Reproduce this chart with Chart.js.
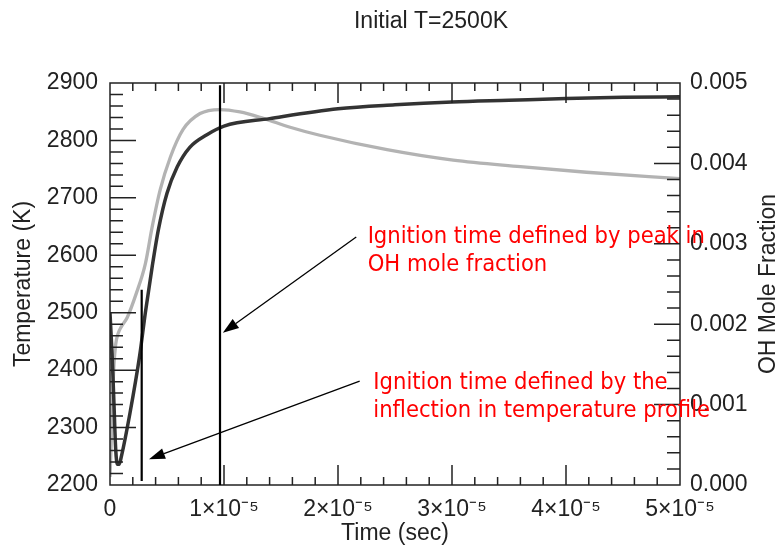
<!DOCTYPE html>
<html>
<head>
<meta charset="utf-8">
<title>Initial T=2500K</title>
<script src="https://cdn.jsdelivr.net/npm/chart.js@4.4.1/dist/chart.umd.min.js"></script>
<style>
    html, body { margin: 0; padding: 0; background: #fff; }
    #wrap { position: relative; width: 780px; height: 548px; }
</style>
</head>
<body>
<div id="wrap"><canvas id="ignition-chart" width="780" height="548"></canvas></div>
<script>
// temperature profile (dark curve), time in sec
var tempTime = [0, 0.1e-6, 0.2e-6, 0.35e-6, 0.5e-6, 0.65e-6, 0.8e-6, 1.0e-6, 1.75e-6, 2.6e-6,
    3.1e-6, 3.7e-6, 4.25e-6, 5.0e-6, 5.9e-6, 7.0e-6, 8.5e-6, 10e-6, 14e-6, 20e-6,
    25e-6, 30e-6, 35e-6, 40e-6, 45e-6, 50e-6];
var tempK = [2500, 2460, 2420, 2340, 2262, 2236, 2236, 2250, 2325, 2425,
    2500, 2580, 2645, 2708, 2754, 2788, 2810, 2825, 2838, 2855,
    2862, 2867, 2870, 2873, 2875, 2876];

// OH mole fraction (light curve)
var ohTime = [0, 0.1e-6, 0.2e-6, 0.35e-6, 0.5e-6, 0.7e-6, 1.0e-6, 1.5e-6, 2.3e-6, 3.1e-6,
    3.7e-6, 4.4e-6, 5.3e-6, 6.4e-6, 7.9e-6, 9.65e-6, 11.4e-6, 13.45e-6, 15.8e-6, 18.4e-6,
    24.3e-6, 30.1e-6, 36e-6, 41.8e-6, 50e-6];
var ohFrac = [0.0001, 0.0005, 0.0010, 0.0015, 0.00175, 0.00188, 0.00197, 0.00208, 0.00238, 0.00275,
    0.00321, 0.00367, 0.00408, 0.00442, 0.00462, 0.00467, 0.00464, 0.00456, 0.00445, 0.00435,
    0.00417, 0.00404, 0.00396, 0.00389, 0.00381];

// axis ticks
var timeTicks = [0, 1e-5, 2e-5, 3e-5, 4e-5, 5e-5];
var tempTicks = [2200, 2300, 2400, 2500, 2600, 2700, 2800, 2900];
var ohTicks = [0, 0.001, 0.002, 0.003, 0.004, 0.005];
var minorPerMajor = 5;

// ignition time markers: [time, T from, T to]
var markTime = [2.78e-6, 9.65e-6];
var markTempLow = [2207, 2200];
var markTempHigh = [2540, 2896];

// annotation arrows, tail -> head in (time, T)
var arrowTailTime = [21.6e-6, 21.9e-6];
var arrowTailTemp = [2632, 2381];
var arrowHeadTime = [9.9e-6, 3.42e-6];
var arrowHeadTemp = [2465, 2245];

// notes, anchored at first line baseline (time, T)
var noteLines = [
    ['Ignition time defined by peak in', 'OH mole fraction'],
    ['Ignition time defined by the', 'inflection in temperature profile']
];
var noteTime = [22.6e-6, 23.1e-6];
var noteTemp = [2621, 2367];

var chartTitle = 'Initial T=2500K';
var rightTitle = 'OH Mole Fraction';

var textFont = '"Liberation Sans", Arial, Helvetica, sans-serif';
var noteFont = '23.5px "DejaVu Sans Condensed", "DejaVu Sans", sans-serif';

Chart.defaults.font.family = textFont;
Chart.defaults.font.size = 23;
Chart.defaults.color = '#222';

function toPoints(xs, ys) {
    var pts = [];
    for (var i = 0; i < xs.length; i++) {
        pts.push({ x: xs[i], y: ys[i] });
    }
    return pts;
}

function fixTicks(list) {
    return function (scale) {
        scale.ticks = list.map(function (v) { return { value: v }; });
    };
}

function drawArrow(ctx, x0, y0, x1, y1) {
    var ang = Math.atan2(y1 - y0, x1 - x0);
    var c = Math.cos(ang), s = Math.sin(ang);
    var head = 16, half = 5.5;
    var bx = x1 - head * c, by = y1 - head * s;
    ctx.beginPath();
    ctx.moveTo(x0, y0);
    ctx.lineTo(bx, by);
    ctx.stroke();
    ctx.beginPath();
    ctx.moveTo(x1, y1);
    ctx.lineTo(bx + half * s, by - half * c);
    ctx.lineTo(bx - half * s, by + half * c);
    ctx.closePath();
    ctx.fill();
}

var frameAndNotes = {
    id: 'frameAndNotes',
    afterDatasetsDraw: function (chart) {
        var ctx = chart.ctx;
        var a = chart.chartArea;
        var sx = chart.scales.x, sy = chart.scales.y, sy1 = chart.scales.y1;
        var i, j;
        ctx.save();
        ctx.strokeStyle = '#222';
        ctx.lineWidth = 1.5;

        // inward tick marks on all four sides
        ctx.beginPath();
        var xStep = (timeTicks[1] - timeTicks[0]) / minorPerMajor;
        var xCount = (timeTicks.length - 1) * minorPerMajor;
        for (i = 1; i < xCount; i++) {
            var px = sx.getPixelForValue(timeTicks[0] + i * xStep);
            var xl = (i % minorPerMajor == 0) ? 20 : 8;
            ctx.moveTo(px, a.bottom);
            ctx.lineTo(px, a.bottom - xl);
            ctx.moveTo(px, a.top);
            ctx.lineTo(px, a.top + xl);
        }
        var yStep = (tempTicks[1] - tempTicks[0]) / minorPerMajor;
        var yCount = (tempTicks.length - 1) * minorPerMajor;
        for (i = 1; i < yCount; i++) {
            var py = sy.getPixelForValue(tempTicks[0] + i * yStep);
            var yl = (i % minorPerMajor == 0) ? 26 : 13;
            ctx.moveTo(a.left, py);
            ctx.lineTo(a.left + yl, py);
        }
        var ohStep = (ohTicks[1] - ohTicks[0]) / minorPerMajor;
        var ohCount = (ohTicks.length - 1) * minorPerMajor;
        for (i = 1; i < ohCount; i++) {
            var py1 = sy1.getPixelForValue(ohTicks[0] + i * ohStep);
            var rl = (i % minorPerMajor == 0) ? 26 : 13;
            ctx.moveTo(a.right, py1);
            ctx.lineTo(a.right - rl, py1);
        }
        ctx.stroke();
        ctx.strokeRect(a.left, a.top, a.right - a.left, a.bottom - a.top);

        // ignition time markers
        ctx.strokeStyle = '#000';
        ctx.lineWidth = 2.2;
        ctx.beginPath();
        for (i = 0; i < markTime.length; i++) {
            var mx = sx.getPixelForValue(markTime[i]);
            ctx.moveTo(mx, sy.getPixelForValue(markTempLow[i]));
            ctx.lineTo(mx, sy.getPixelForValue(markTempHigh[i]));
        }
        ctx.stroke();

        // arrows
        ctx.lineWidth = 1.3;
        ctx.fillStyle = '#000';
        for (i = 0; i < arrowTailTime.length; i++) {
            drawArrow(ctx,
                sx.getPixelForValue(arrowTailTime[i]), sy.getPixelForValue(arrowTailTemp[i]),
                sx.getPixelForValue(arrowHeadTime[i]), sy.getPixelForValue(arrowHeadTemp[i]));
        }

        // red notes
        ctx.font = noteFont;
        ctx.fillStyle = '#ff0000';
        ctx.textAlign = 'left';
        ctx.textBaseline = 'alphabetic';
        for (i = 0; i < noteLines.length; i++) {
            var nx = sx.getPixelForValue(noteTime[i]);
            var ny = sy.getPixelForValue(noteTemp[i]);
            for (j = 0; j < noteLines[i].length; j++) {
                ctx.fillText(noteLines[i][j], nx, ny + j * 28);
            }
        }

        // title and right axis title
        ctx.fillStyle = '#222';
        ctx.font = '23px ' + textFont;
        ctx.textAlign = 'center';
        ctx.fillText(chartTitle, 431, 28);
        ctx.translate(769, (a.top + a.bottom) / 2);
        ctx.rotate(-Math.PI / 2);
        ctx.textBaseline = 'middle';
        ctx.fillText(rightTitle, 0, 0);
        ctx.restore();
    }
};

var ctx = document.getElementById('ignition-chart').getContext('2d');
var chart = new Chart(ctx, {
    type: 'line',
    data: {
        datasets: [
            {
                label: 'Temperature',
                data: toPoints(tempTime, tempK),
                yAxisID: 'y',
                borderColor: '#333333',
                borderWidth: 3.5,
                pointRadius: 0,
                cubicInterpolationMode: 'monotone'
            },
            {
                label: 'OH',
                data: toPoints(ohTime, ohFrac),
                yAxisID: 'y1',
                borderColor: '#b3b3b3',
                borderWidth: 3.3,
                pointRadius: 0,
                cubicInterpolationMode: 'monotone'
            }
        ]
    },
    options: {
        responsive: false,
        animation: false,
        devicePixelRatio: 1,
        layout: { padding: { top: 83, left: 0, right: 0, bottom: 0 } },
        plugins: {
            legend: { display: false },
            tooltip: { enabled: false }
        },
        scales: {
            x: {
                type: 'linear',
                min: 0,
                max: 5e-5,
                grid: { display: false, drawTicks: false },
                border: { display: false },
                afterBuildTicks: fixTicks(timeTicks),
                afterFit: function (scale) { scale.height = 63; },
                ticks: {
                    autoSkip: false,
                    maxRotation: 0,
                    padding: 11,
                    callback: function (v) {
                        if (v == 0) return '0';
                        return Math.round(v / 1e-5) + '×10⁻⁵';
                    }
                },
                title: { display: true, text: 'Time (sec)', padding: { top: 0, bottom: 1 } }
            },
            y: {
                position: 'left',
                min: 2200,
                max: 2900,
                grid: { display: false, drawTicks: false },
                border: { display: false },
                afterBuildTicks: fixTicks(tempTicks),
                afterFit: function (scale) { scale.width = 110; },
                ticks: {
                    padding: 12,
                    callback: function (v) { return String(v); }
                },
                title: { display: true, text: 'Temperature (K)', padding: { top: 10, bottom: 0 } }
            },
            y1: {
                position: 'right',
                min: 0,
                max: 0.005,
                grid: { display: false, drawTicks: false },
                border: { display: false },
                afterBuildTicks: fixTicks(ohTicks),
                afterFit: function (scale) { scale.width = 100; },
                ticks: {
                    padding: 10,
                    callback: function (v) { return v.toFixed(3); }
                }
            }
        }
    },
    plugins: [frameAndNotes]
});
</script>
</body>
</html>
